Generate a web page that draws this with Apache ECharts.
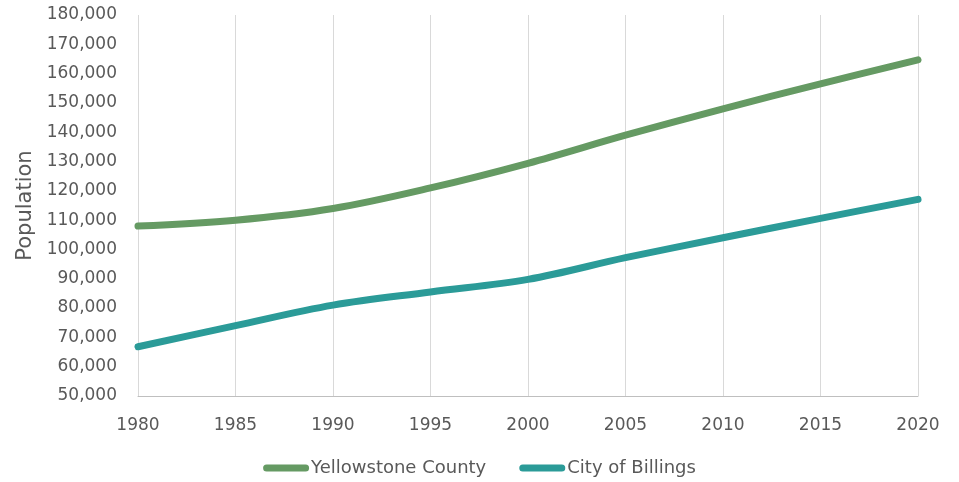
<!DOCTYPE html>
<html>
<head>
<meta charset="utf-8">
<script src="https://cdn.jsdelivr.net/npm/echarts@6/dist/echarts.min.js"></script>
<style>
  html, body { margin: 0; padding: 0; background: #fff; }
  #chart { width: 959px; height: 482px; }
</style>
</head>
<body>
<div id="chart"></div>
<script>
// years on the x axis (5-year steps)
const years = ['1980', '1985', '1990', '1995', '2000', '2005', '2010', '2015', '2020'];
// population values
const yellowstone = [108000, 110000, 114000, 121000, 129400, 139000, 148000, 156500, 164700];
const billings = [66800, 74000, 81000, 85500, 89800, 97200, 104000, 110600, 117100];

const font = 'DejaVu Sans';
const textColor = '#595959';
// pill shaped legend marker, like a thick line with round ends
const pill = 'path://M3.5,0 H42.5 A3.5,3.5 0 0 1 42.5,7 H3.5 A3.5,3.5 0 0 1 3.5,0 Z';

const chart = echarts.init(document.getElementById('chart'));
const option = {
  animation: false,
  grid: {
    left: 138,
    right: 41,
    top: 15,
    bottom: 86
  },
  legend: {
    bottom: 0,
    left: 'center',
    icon: pill,
    itemWidth: 46,
    itemHeight: 7,
    itemGap: 33,
    textStyle: {
      fontFamily: font,
      fontSize: 18,
      color: textColor,
      padding: [0, 0, 0, -3]
    },
    data: ['Yellowstone County', 'City of Billings']
  },
  xAxis: {
    type: 'category',
    data: years,
    boundaryGap: false,
    axisLine: { show: true, lineStyle: { color: '#bfbfbf', width: 1 } },
    axisTick: { show: false },
    axisLabel: {
      fontFamily: font,
      fontSize: 17,
      color: textColor,
      margin: 21,
      interval: 0
    },
    splitLine: {
      show: true,
      interval: 0,
      lineStyle: { color: '#d9d9d9', width: 1 }
    }
  },
  yAxis: {
    type: 'value',
    min: 50000,
    max: 180000,
    interval: 10000,
    name: 'Population',
    nameLocation: 'middle',
    nameGap: 101,
    nameTextStyle: {
      fontFamily: font,
      fontSize: 21,
      color: textColor
    },
    axisLine: { show: false },
    axisTick: { show: false },
    splitLine: { show: false },
    axisLabel: {
      fontFamily: font,
      fontSize: 17,
      color: textColor,
      margin: 21
    }
  },
  series: [
    {
      name: 'Yellowstone County',
      type: 'line',
      data: yellowstone,
      smooth: 0.35,
      showSymbol: false,
      color: '#659a63',
      lineStyle: { width: 7, color: '#659a63', cap: 'round' }
    },
    {
      name: 'City of Billings',
      type: 'line',
      data: billings,
      smooth: 0.35,
      showSymbol: false,
      color: '#2b9b98',
      lineStyle: { width: 7, color: '#2b9b98', cap: 'round' }
    }
  ]
};
chart.setOption(option);
</script>
</body>
</html>
